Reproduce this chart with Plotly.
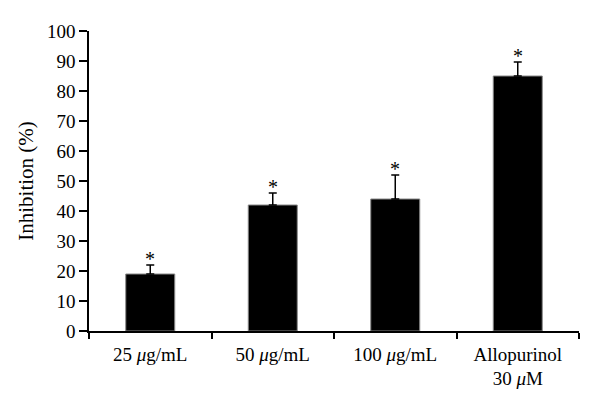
import plotly.graph_objects as go

categories = ["25 <i>μ</i>g/mL", "50 <i>μ</i>g/mL", "100 <i>μ</i>g/mL", "Allopurinol<br>30 <i>μ</i>M"]
values = [19, 42, 44, 85]
errors = [3, 4, 8, 4.7]
y_ticks = list(range(0, 101, 10))

font_family = "Liberation Serif, Times New Roman, serif"

fig = go.Figure()
fig.add_trace(go.Bar(
    x=categories, y=values, width=0.4,
    marker=dict(color="black", line=dict(color="#888888", width=1)),
    error_y=dict(type="data", array=errors, arrayminus=[0] * len(errors),
                 symmetric=False, color="black", thickness=1.5, width=4),
))

for c, v, e in zip(categories, values, errors):
    fig.add_annotation(x=c, y=v + e, text="*", showarrow=False,
                       yanchor="bottom", yshift=-7,
                       font=dict(family=font_family, size=20, color="black"))

fig.update_layout(
    width=592, height=402,
    margin=dict(l=81, r=21, t=23, b=79),
    paper_bgcolor="white", plot_bgcolor="white",
    showlegend=False,
    font=dict(family=font_family, size=19, color="black"),
)
fig.update_xaxes(
    showline=True, linecolor="black", linewidth=1.5,
    ticks="outside", tickson="boundaries", ticklen=6, tickwidth=1.5, tickcolor="black",
    showgrid=False, automargin=False, ticklabelstandoff=5,
    tickfont=dict(family=font_family, size=19),
)
fig.update_yaxes(
    range=[0, 100], tickvals=y_ticks,
    showline=True, linecolor="black", linewidth=1.5,
    ticks="outside", ticklen=8, tickwidth=1.5, tickcolor="black",
    showgrid=False, zeroline=False, automargin=False,
    title=dict(text="Inhibition (%)", font=dict(family=font_family, size=21), standoff=8),
    tickfont=dict(family=font_family, size=19),
)

fig.write_html("out.html")
